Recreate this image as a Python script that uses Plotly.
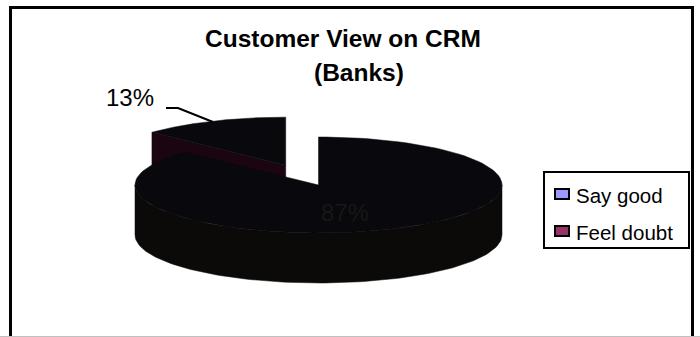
import numpy as np
import plotly.graph_objects as go

# ---- data ----
categories = ["Say good", "Feel doubt"]
values = [87, 13]
legend_colors = ["#9999FF", "#993366"]
pull = [0.0, 0.45]
title_lines = ["Customer View on CRM", "(Banks)"]

# ---- 3D pie geometry (pixel space) ----
W, H = 700, 337
cx, cy, rx, ry, depth = 318.5, 185.0, 183.5, 48.0, 50.0
top_col = "#09080c"
side_col = "#0b0a08"
face_cols = ["#0b0a0d", "#1a0511"]

total = float(sum(values))
bounds = np.concatenate([[0.0], np.cumsum(values) / total * 360.0])


def pt(theta, ox=0.0, oy=0.0, down=0.0):
    t = np.radians(theta)
    return cx + ox + rx * np.sin(t), cy + oy - ry * np.cos(t) + down


def arc(t0, t1, ox=0.0, oy=0.0, down=0.0, n=120):
    ts = np.linspace(t0, t1, n)
    xs, ys = pt(ts, ox, oy, down)
    return list(xs), list(ys)


fig = go.Figure()


def poly(xs, ys, color, name):
    fig.add_trace(go.Scatter(
        x=xs + [xs[0]], y=ys + [ys[0]], mode="lines", fill="toself",
        fillcolor=color, line=dict(color=color, width=0.5),
        hoverinfo="skip", showlegend=False, name=name))


# draw back (exploded) slice first, then the main slice
order = sorted(range(len(values)), key=lambda i: -pull[i])
for i in order:
    t0, t1 = bounds[i], bounds[i + 1]
    mid = np.radians((t0 + t1) / 2)
    ox = pull[i] * rx * np.sin(mid)
    oy = -pull[i] * ry * np.cos(mid)
    ccx, ccy = cx + ox, cy + oy
    # radial face at start edge (visible when facing front-left)
    if pull[i] > 0:
        rxp, ryp = pt(t0, ox, oy)
        poly([ccx, rxp, rxp, ccx], [ccy, ryp, ryp + depth, ccy + depth],
             face_cols[i], categories[i])
    # outer side wall, front half only
    a0, a1 = max(t0, 90.0), min(t1, 270.0)
    if a1 > a0:
        xt, yt = arc(a0, a1, ox, oy)
        xb, yb = arc(a1, a0, ox, oy, depth)
        poly(xt + xb, yt + yb, side_col, categories[i])
    # top face
    xa, ya = arc(t0, t1, ox, oy)
    poly([ccx] + xa, [ccy] + ya, top_col, categories[i])

# ---- labels ----
pcts = [f"{round(v / total * 100)}%" for v in values]
fig.add_annotation(x=345, y=212, text=pcts[0], showarrow=False,
                   font=dict(family="Arial, Liberation Sans", size=24, color="#171717"))
fig.add_annotation(x=130, y=97, text=pcts[1], showarrow=False,
                   font=dict(family="Arial, Liberation Sans", size=24, color="#000000"))
fig.add_shape(type="path", path="M 166 108 L 178 108 L 213 122",
              line=dict(color="#000000", width=2))

# ---- title ----
fig.add_annotation(x=343, y=38, text=f"<b>{title_lines[0]}</b>", showarrow=False,
                   font=dict(family="Arial, Liberation Sans", size=24.5, color="#000000"))
fig.add_annotation(x=359, y=72, text=f"<b>{title_lines[1]}</b>", showarrow=False,
                   font=dict(family="Arial, Liberation Sans", size=24.5, color="#000000"))

# ---- legend (manual) ----
fig.add_shape(type="rect", x0=544, y0=172, x1=689, y1=248,
              line=dict(color="#000000", width=2), fillcolor="white")
for k, (cat, col) in enumerate(zip(categories, legend_colors)):
    yc = 194 + k * 37
    fig.add_shape(type="rect", x0=555, y0=yc - 5, x1=569, y1=yc + 5,
                  line=dict(color="#000000", width=2), fillcolor=col)
    fig.add_annotation(x=574, y=yc + 1, text=cat, showarrow=False, xanchor="left",
                       font=dict(family="Arial, Liberation Sans", size=20.5, color="#000000"))

# ---- frame ----
fig.add_shape(type="rect", x0=10.5, y0=7.5, x1=692.5, y1=345,
              line=dict(color="#000000", width=3))
fig.add_shape(type="line", x0=0, y0=336.5, x1=700, y1=336.5,
              line=dict(color="#c0c0c0", width=1))

fig.update_layout(
    width=W, height=H, margin=dict(l=0, r=0, t=0, b=0),
    paper_bgcolor="white", plot_bgcolor="white", showlegend=False,
    xaxis=dict(range=[0, W], visible=False, fixedrange=True),
    yaxis=dict(range=[H, 0], visible=False, fixedrange=True),
)

fig.write_html("out.html")
